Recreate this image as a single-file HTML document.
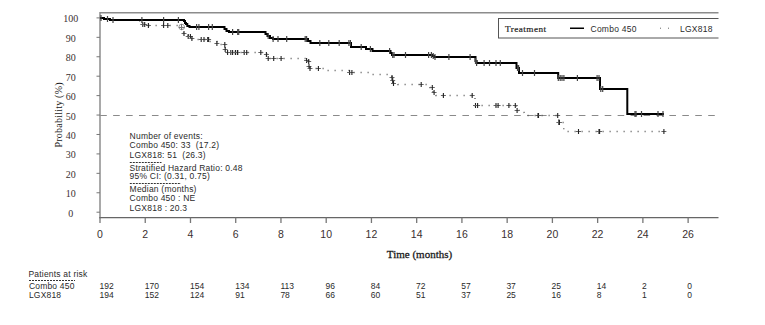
<!DOCTYPE html>
<html><head><meta charset="utf-8"><style>
html,body{margin:0;padding:0;background:#fff;}
body{width:765px;height:325px;overflow:hidden;position:relative;}
svg{position:absolute;left:0;top:0;}
.s{font-family:"Liberation Sans",sans-serif;}
.r{font-family:"Liberation Serif",serif;}
</style></head><body>
<svg width="765" height="325" viewBox="0 0 765 325">
<defs><clipPath id="c"><rect x="0" y="0" width="718.5" height="325"/></clipPath></defs>
<g clip-path="url(#c)">

<path d="M100,12.75 H720" stroke="#8c8c8c" stroke-width="1.5" fill="none"/>
<path d="M100,12 V218.3" stroke="#8c8c8c" stroke-width="1.5" fill="none"/>
<path d="M99.3,217.6 H720" stroke="#666" stroke-width="1.3" fill="none"/>
<path d="M96.5,212.20 H100" stroke="#777" stroke-width="1" fill="none"/>
<text class="r" x="70.7" y="216.70" font-size="10" text-anchor="middle" fill="#3a3030">0</text>
<path d="M96.5,192.77 H100" stroke="#777" stroke-width="1" fill="none"/>
<text class="r" x="70.7" y="197.27" font-size="10" text-anchor="middle" fill="#3a3030">10</text>
<path d="M96.5,173.34 H100" stroke="#777" stroke-width="1" fill="none"/>
<text class="r" x="70.7" y="177.84" font-size="10" text-anchor="middle" fill="#3a3030">20</text>
<path d="M96.5,153.91 H100" stroke="#777" stroke-width="1" fill="none"/>
<text class="r" x="70.7" y="158.41" font-size="10" text-anchor="middle" fill="#3a3030">30</text>
<path d="M96.5,134.48 H100" stroke="#777" stroke-width="1" fill="none"/>
<text class="r" x="70.7" y="138.98" font-size="10" text-anchor="middle" fill="#3a3030">40</text>
<path d="M96.5,115.05 H100" stroke="#777" stroke-width="1" fill="none"/>
<text class="r" x="70.7" y="119.55" font-size="10" text-anchor="middle" fill="#3a3030">50</text>
<path d="M96.5,95.62 H100" stroke="#777" stroke-width="1" fill="none"/>
<text class="r" x="70.7" y="100.12" font-size="10" text-anchor="middle" fill="#3a3030">60</text>
<path d="M96.5,76.19 H100" stroke="#777" stroke-width="1" fill="none"/>
<text class="r" x="70.7" y="80.69" font-size="10" text-anchor="middle" fill="#3a3030">70</text>
<path d="M96.5,56.76 H100" stroke="#777" stroke-width="1" fill="none"/>
<text class="r" x="70.7" y="61.26" font-size="10" text-anchor="middle" fill="#3a3030">80</text>
<path d="M96.5,37.33 H100" stroke="#777" stroke-width="1" fill="none"/>
<text class="r" x="70.7" y="41.83" font-size="10" text-anchor="middle" fill="#3a3030">90</text>
<path d="M96.5,17.90 H100" stroke="#777" stroke-width="1" fill="none"/>
<text class="r" x="70.7" y="22.40" font-size="10" text-anchor="middle" fill="#3a3030">100</text>
<path d="M100.00,217.6 V223" stroke="#777" stroke-width="1.3" fill="none"/>
<text class="s" x="100.00" y="237.8" font-size="10.5" text-anchor="middle" fill="#3a3030">0</text>
<path d="M145.24,217.6 V223" stroke="#777" stroke-width="1.3" fill="none"/>
<text class="s" x="145.24" y="237.8" font-size="10.5" text-anchor="middle" fill="#3a3030">2</text>
<path d="M190.48,217.6 V223" stroke="#777" stroke-width="1.3" fill="none"/>
<text class="s" x="190.48" y="237.8" font-size="10.5" text-anchor="middle" fill="#3a3030">4</text>
<path d="M235.72,217.6 V223" stroke="#777" stroke-width="1.3" fill="none"/>
<text class="s" x="235.72" y="237.8" font-size="10.5" text-anchor="middle" fill="#3a3030">6</text>
<path d="M280.96,217.6 V223" stroke="#777" stroke-width="1.3" fill="none"/>
<text class="s" x="280.96" y="237.8" font-size="10.5" text-anchor="middle" fill="#3a3030">8</text>
<path d="M326.20,217.6 V223" stroke="#777" stroke-width="1.3" fill="none"/>
<text class="s" x="326.20" y="237.8" font-size="10.5" text-anchor="middle" fill="#3a3030">10</text>
<path d="M371.44,217.6 V223" stroke="#777" stroke-width="1.3" fill="none"/>
<text class="s" x="371.44" y="237.8" font-size="10.5" text-anchor="middle" fill="#3a3030">12</text>
<path d="M416.68,217.6 V223" stroke="#777" stroke-width="1.3" fill="none"/>
<text class="s" x="416.68" y="237.8" font-size="10.5" text-anchor="middle" fill="#3a3030">14</text>
<path d="M461.92,217.6 V223" stroke="#777" stroke-width="1.3" fill="none"/>
<text class="s" x="461.92" y="237.8" font-size="10.5" text-anchor="middle" fill="#3a3030">16</text>
<path d="M507.16,217.6 V223" stroke="#777" stroke-width="1.3" fill="none"/>
<text class="s" x="507.16" y="237.8" font-size="10.5" text-anchor="middle" fill="#3a3030">18</text>
<path d="M552.40,217.6 V223" stroke="#777" stroke-width="1.3" fill="none"/>
<text class="s" x="552.40" y="237.8" font-size="10.5" text-anchor="middle" fill="#3a3030">20</text>
<path d="M597.64,217.6 V223" stroke="#777" stroke-width="1.3" fill="none"/>
<text class="s" x="597.64" y="237.8" font-size="10.5" text-anchor="middle" fill="#3a3030">22</text>
<path d="M642.88,217.6 V223" stroke="#777" stroke-width="1.3" fill="none"/>
<text class="s" x="642.88" y="237.8" font-size="10.5" text-anchor="middle" fill="#3a3030">24</text>
<path d="M688.12,217.6 V223" stroke="#777" stroke-width="1.3" fill="none"/>
<text class="s" x="688.12" y="237.8" font-size="10.5" text-anchor="middle" fill="#3a3030">26</text>
<path d="M100.2,115.5 H716" stroke="#8a8a8a" stroke-width="1" stroke-dasharray="6.6 6.336" fill="none"/>
<path d="M139.6,20.5 H139.6 V22.5 H142 V24.5 H146 V25.5 H181 V27.5 H183.5 V33.5 H185 V35.5 H188.2 V36.5 H191.9 V38.5 H193 V39.5 H209 V41.5 H216.9 V43.5 H220 V44.5 H225 V49.5 H226.5 V52.5 H265 V54.5 H267.5 V58.5 H306.6 V60.5 H308.7 V61.5 H309 V66.5 H310 V68.5 H324 V69.5 H327 V70.5 H349 V72.5 H372 V74.5 H392 V77.5 H392.7 V80.5 H393.5 V83.5 H398 V84.5 H430 V87.5 H433 V92.5 H436 V95.5 H475 V105.5 H516.5 V110.5 H519 V112.5 H524 V115.5 H558.9 V122.5 H563.8 V131.5 H664" stroke="#555" stroke-width="1.3" stroke-dasharray="1 6" fill="none"/>
<path d="M140.3,24.5 H145.3" stroke="#666" stroke-width="1" fill="none"/><path d="M142.8,22.0 V27.0" stroke="#222" stroke-width="1.1" fill="none"/>
<path d="M142.2,24.5 H147.2" stroke="#666" stroke-width="1" fill="none"/><path d="M144.7,22.0 V27.0" stroke="#222" stroke-width="1.1" fill="none"/>
<path d="M145.9,25.5 H150.9" stroke="#666" stroke-width="1" fill="none"/><path d="M148.4,23.0 V28.0" stroke="#222" stroke-width="1.1" fill="none"/>
<path d="M161.1,25.5 H166.1" stroke="#666" stroke-width="1" fill="none"/><path d="M163.6,23.0 V28.0" stroke="#222" stroke-width="1.1" fill="none"/>
<path d="M165.3,25.5 H170.3" stroke="#666" stroke-width="1" fill="none"/><path d="M167.8,23.0 V28.0" stroke="#222" stroke-width="1.1" fill="none"/>
<path d="M181.5,33.5 H186.5" stroke="#666" stroke-width="1" fill="none"/><path d="M184,31.0 V36.0" stroke="#222" stroke-width="1.1" fill="none"/>
<path d="M185.7,36.5 H190.7" stroke="#666" stroke-width="1" fill="none"/><path d="M188.2,34.0 V39.0" stroke="#222" stroke-width="1.1" fill="none"/>
<path d="M187.9,36.5 H192.9" stroke="#666" stroke-width="1" fill="none"/><path d="M190.4,34.0 V39.0" stroke="#222" stroke-width="1.1" fill="none"/>
<path d="M189.4,38.5 H194.4" stroke="#666" stroke-width="1" fill="none"/><path d="M191.9,36.0 V41.0" stroke="#222" stroke-width="1.1" fill="none"/>
<path d="M198.7,39.5 H203.7" stroke="#666" stroke-width="1" fill="none"/><path d="M201.2,37.0 V42.0" stroke="#222" stroke-width="1.1" fill="none"/>
<path d="M201.5,39.5 H206.5" stroke="#666" stroke-width="1" fill="none"/><path d="M204,37.0 V42.0" stroke="#222" stroke-width="1.1" fill="none"/>
<path d="M205.2,39.5 H210.2" stroke="#666" stroke-width="1" fill="none"/><path d="M207.7,37.0 V42.0" stroke="#222" stroke-width="1.1" fill="none"/>
<path d="M206.1,39.5 H211.1" stroke="#666" stroke-width="1" fill="none"/><path d="M208.6,37.0 V42.0" stroke="#222" stroke-width="1.1" fill="none"/>
<path d="M214.4,43.5 H219.4" stroke="#666" stroke-width="1" fill="none"/><path d="M216.9,41.0 V46.0" stroke="#222" stroke-width="1.1" fill="none"/>
<path d="M222.3,44.5 H227.3" stroke="#666" stroke-width="1" fill="none"/><path d="M224.8,42.0 V47.0" stroke="#222" stroke-width="1.1" fill="none"/>
<path d="M222.7,49.5 H227.7" stroke="#666" stroke-width="1" fill="none"/><path d="M225.2,47.0 V52.0" stroke="#222" stroke-width="1.1" fill="none"/>
<path d="M225.1,52.5 H230.1" stroke="#666" stroke-width="1" fill="none"/><path d="M227.6,50.0 V55.0" stroke="#222" stroke-width="1.1" fill="none"/>
<path d="M228.3,52.5 H233.3" stroke="#666" stroke-width="1" fill="none"/><path d="M230.8,50.0 V55.0" stroke="#222" stroke-width="1.1" fill="none"/>
<path d="M230.1,52.5 H235.1" stroke="#666" stroke-width="1" fill="none"/><path d="M232.6,50.0 V55.0" stroke="#222" stroke-width="1.1" fill="none"/>
<path d="M232.9,52.5 H237.9" stroke="#666" stroke-width="1" fill="none"/><path d="M235.4,50.0 V55.0" stroke="#222" stroke-width="1.1" fill="none"/>
<path d="M235.2,52.5 H240.2" stroke="#666" stroke-width="1" fill="none"/><path d="M237.7,50.0 V55.0" stroke="#222" stroke-width="1.1" fill="none"/>
<path d="M233.1,52.5 H238.1" stroke="#666" stroke-width="1" fill="none"/><path d="M235.6,50.0 V55.0" stroke="#222" stroke-width="1.1" fill="none"/>
<path d="M235.0,52.5 H240.0" stroke="#666" stroke-width="1" fill="none"/><path d="M237.5,50.0 V55.0" stroke="#222" stroke-width="1.1" fill="none"/>
<path d="M241.7,52.5 H246.7" stroke="#666" stroke-width="1" fill="none"/><path d="M244.2,50.0 V55.0" stroke="#222" stroke-width="1.1" fill="none"/>
<path d="M244.2,52.5 H249.2" stroke="#666" stroke-width="1" fill="none"/><path d="M246.7,50.0 V55.0" stroke="#222" stroke-width="1.1" fill="none"/>
<path d="M258.3,52.5 H263.3" stroke="#666" stroke-width="1" fill="none"/><path d="M260.8,50.0 V55.0" stroke="#222" stroke-width="1.1" fill="none"/>
<path d="M263.9,54.5 H268.9" stroke="#666" stroke-width="1" fill="none"/><path d="M266.4,52.0 V57.0" stroke="#222" stroke-width="1.1" fill="none"/>
<path d="M265.7,58.5 H270.7" stroke="#666" stroke-width="1" fill="none"/><path d="M268.2,56.0 V61.0" stroke="#222" stroke-width="1.1" fill="none"/>
<path d="M271.2,58.5 H276.2" stroke="#666" stroke-width="1" fill="none"/><path d="M273.7,56.0 V61.0" stroke="#222" stroke-width="1.1" fill="none"/>
<path d="M278.6,58.5 H283.6" stroke="#666" stroke-width="1" fill="none"/><path d="M281.1,56.0 V61.0" stroke="#222" stroke-width="1.1" fill="none"/>
<path d="M304.1,60.5 H309.1" stroke="#666" stroke-width="1" fill="none"/><path d="M306.6,58.0 V63.0" stroke="#222" stroke-width="1.1" fill="none"/>
<path d="M306.2,61.5 H311.2" stroke="#666" stroke-width="1" fill="none"/><path d="M308.7,59.0 V64.0" stroke="#222" stroke-width="1.1" fill="none"/>
<path d="M306.5,66.5 H311.5" stroke="#666" stroke-width="1" fill="none"/><path d="M309,64.0 V69.0" stroke="#222" stroke-width="1.1" fill="none"/>
<path d="M307.5,68.5 H312.5" stroke="#666" stroke-width="1" fill="none"/><path d="M310,66.0 V71.0" stroke="#222" stroke-width="1.1" fill="none"/>
<path d="M315.9,68.5 H320.9" stroke="#666" stroke-width="1" fill="none"/><path d="M318.4,66.0 V71.0" stroke="#222" stroke-width="1.1" fill="none"/>
<path d="M347.1,72.5 H352.1" stroke="#666" stroke-width="1" fill="none"/><path d="M349.6,70.0 V75.0" stroke="#222" stroke-width="1.1" fill="none"/>
<path d="M349.4,72.5 H354.4" stroke="#666" stroke-width="1" fill="none"/><path d="M351.9,70.0 V75.0" stroke="#222" stroke-width="1.1" fill="none"/>
<path d="M389.5,77.5 H394.5" stroke="#666" stroke-width="1" fill="none"/><path d="M392,75.0 V80.0" stroke="#222" stroke-width="1.1" fill="none"/>
<path d="M390.2,80.5 H395.2" stroke="#666" stroke-width="1" fill="none"/><path d="M392.7,78.0 V83.0" stroke="#222" stroke-width="1.1" fill="none"/>
<path d="M391.0,83.5 H396.0" stroke="#666" stroke-width="1" fill="none"/><path d="M393.5,81.0 V86.0" stroke="#222" stroke-width="1.1" fill="none"/>
<path d="M418.7,84.5 H423.7" stroke="#666" stroke-width="1" fill="none"/><path d="M421.2,82.0 V87.0" stroke="#222" stroke-width="1.1" fill="none"/>
<path d="M429.8,87.5 H434.8" stroke="#666" stroke-width="1" fill="none"/><path d="M432.3,85.0 V90.0" stroke="#222" stroke-width="1.1" fill="none"/>
<path d="M431.6,92.5 H436.6" stroke="#666" stroke-width="1" fill="none"/><path d="M434.1,90.0 V95.0" stroke="#222" stroke-width="1.1" fill="none"/>
<path d="M440.9,95.5 H445.9" stroke="#666" stroke-width="1" fill="none"/><path d="M443.4,93.0 V98.0" stroke="#222" stroke-width="1.1" fill="none"/>
<path d="M469.7,95.5 H474.7" stroke="#666" stroke-width="1" fill="none"/><path d="M472.2,93.0 V98.0" stroke="#222" stroke-width="1.1" fill="none"/>
<path d="M473.0,105.5 H478.0" stroke="#666" stroke-width="1" fill="none"/><path d="M475.5,103.0 V108.0" stroke="#222" stroke-width="1.1" fill="none"/>
<path d="M475.1,105.5 H480.1" stroke="#666" stroke-width="1" fill="none"/><path d="M477.6,103.0 V108.0" stroke="#222" stroke-width="1.1" fill="none"/>
<path d="M493.5,105.5 H498.5" stroke="#666" stroke-width="1" fill="none"/><path d="M496,103.0 V108.0" stroke="#222" stroke-width="1.1" fill="none"/>
<path d="M495.6,105.5 H500.6" stroke="#666" stroke-width="1" fill="none"/><path d="M498.1,103.0 V108.0" stroke="#222" stroke-width="1.1" fill="none"/>
<path d="M506.4,105.5 H511.4" stroke="#666" stroke-width="1" fill="none"/><path d="M508.9,103.0 V108.0" stroke="#222" stroke-width="1.1" fill="none"/>
<path d="M512.8,105.5 H517.8" stroke="#666" stroke-width="1" fill="none"/><path d="M515.3,103.0 V108.0" stroke="#222" stroke-width="1.1" fill="none"/>
<path d="M514.6,110.5 H519.6" stroke="#666" stroke-width="1" fill="none"/><path d="M517.1,108.0 V113.0" stroke="#222" stroke-width="1.1" fill="none"/>
<path d="M536.0,115.5 H541.0" stroke="#666" stroke-width="1" fill="none"/><path d="M538.5,113.0 V118.0" stroke="#222" stroke-width="1.1" fill="none"/>
<path d="M535.5,115.5 H540.5" stroke="#666" stroke-width="1" fill="none"/><path d="M538,113.0 V118.0" stroke="#222" stroke-width="1.1" fill="none"/>
<path d="M555.2,115.5 H560.2" stroke="#666" stroke-width="1" fill="none"/><path d="M557.7,113.0 V118.0" stroke="#222" stroke-width="1.1" fill="none"/>
<path d="M556.4,122.5 H561.4" stroke="#666" stroke-width="1" fill="none"/><path d="M558.9,120.0 V125.0" stroke="#222" stroke-width="1.1" fill="none"/>
<path d="M556.9,122.5 H561.9" stroke="#666" stroke-width="1" fill="none"/><path d="M559.4,120.0 V125.0" stroke="#222" stroke-width="1.1" fill="none"/>
<path d="M576.0,131.5 H581.0" stroke="#666" stroke-width="1" fill="none"/><path d="M578.5,129.0 V134.0" stroke="#222" stroke-width="1.1" fill="none"/>
<path d="M596.5,131.5 H601.5" stroke="#666" stroke-width="1" fill="none"/><path d="M599,129.0 V134.0" stroke="#222" stroke-width="1.1" fill="none"/>
<path d="M597.1,131.5 H602.1" stroke="#666" stroke-width="1" fill="none"/><path d="M599.6,129.0 V134.0" stroke="#222" stroke-width="1.1" fill="none"/>
<path d="M661.4,131.5 H666.4" stroke="#666" stroke-width="1" fill="none"/><path d="M663.9,129.0 V134.0" stroke="#222" stroke-width="1.1" fill="none"/>
<circle cx="181.7" cy="27" r="2.8" fill="none" stroke="#999" stroke-width="1"/><path d="M178.7,27.5 H184.7 M181.5,24 V30" stroke="#777" stroke-width="1"/>
<path d="M100,18 H104 V19 H110 V20 H139 V20 H183 V20 H184 V21 H185 V23 H186 V24 H187.3 V26 H189.5 V27 H224.5 V29 H226.5 V31 H229 V32 H265.5 V34 H267.5 V36 H270 V38 H273 V39 H308 V41 H310.5 V43 H351 V47 H366 V49 H372.5 V51 H390.5 V53 H392 V55 H432.3 V56 H434 V57 H475.5 V61 H476.6 V63 H516.5 V68 H519 V73 H558.2 V78 H600 V89 H627.3 V114 H664" stroke="#000" stroke-width="2" fill="none"/>
<path d="M101,15 V21" stroke="#444" stroke-width="1.2" fill="none"/>
<path d="M107.5,16 V22" stroke="#444" stroke-width="1.2" fill="none"/>
<path d="M113,17 V23" stroke="#444" stroke-width="1.2" fill="none"/>
<path d="M141.9,17 V23" stroke="#444" stroke-width="1.2" fill="none"/>
<path d="M163.6,17 V23" stroke="#444" stroke-width="1.2" fill="none"/>
<path d="M178.4,17 V23" stroke="#444" stroke-width="1.2" fill="none"/>
<path d="M196.6,24 V30" stroke="#444" stroke-width="1.2" fill="none"/>
<path d="M198.9,24 V30" stroke="#444" stroke-width="1.2" fill="none"/>
<path d="M208.6,24 V30" stroke="#444" stroke-width="1.2" fill="none"/>
<path d="M212.3,24 V30" stroke="#444" stroke-width="1.2" fill="none"/>
<path d="M232.6,29 V35" stroke="#444" stroke-width="1.2" fill="none"/>
<path d="M237.7,29 V35" stroke="#444" stroke-width="1.2" fill="none"/>
<path d="M238.7,29 V35" stroke="#444" stroke-width="1.2" fill="none"/>
<path d="M268.2,33 V39" stroke="#444" stroke-width="1.2" fill="none"/>
<path d="M273.1,36 V42" stroke="#444" stroke-width="1.2" fill="none"/>
<path d="M278,36 V42" stroke="#444" stroke-width="1.2" fill="none"/>
<path d="M286.7,36 V42" stroke="#444" stroke-width="1.2" fill="none"/>
<path d="M305.2,36 V42" stroke="#444" stroke-width="1.2" fill="none"/>
<path d="M306.6,36 V42" stroke="#444" stroke-width="1.2" fill="none"/>
<path d="M319.8,40 V46" stroke="#444" stroke-width="1.2" fill="none"/>
<path d="M328.8,40 V46" stroke="#444" stroke-width="1.2" fill="none"/>
<path d="M339.2,40 V46" stroke="#444" stroke-width="1.2" fill="none"/>
<path d="M348.9,40 V46" stroke="#444" stroke-width="1.2" fill="none"/>
<path d="M350.4,40 V46" stroke="#444" stroke-width="1.2" fill="none"/>
<path d="M361.2,44 V50" stroke="#444" stroke-width="1.2" fill="none"/>
<path d="M370.4,46 V52" stroke="#444" stroke-width="1.2" fill="none"/>
<path d="M389.6,48 V54" stroke="#444" stroke-width="1.2" fill="none"/>
<path d="M392.7,52 V58" stroke="#444" stroke-width="1.2" fill="none"/>
<path d="M394,52 V58" stroke="#444" stroke-width="1.2" fill="none"/>
<path d="M405.5,52 V58" stroke="#444" stroke-width="1.2" fill="none"/>
<path d="M428.6,52 V58" stroke="#444" stroke-width="1.2" fill="none"/>
<path d="M431.4,52 V58" stroke="#444" stroke-width="1.2" fill="none"/>
<path d="M433.2,53 V59" stroke="#444" stroke-width="1.2" fill="none"/>
<path d="M435,54 V60" stroke="#444" stroke-width="1.2" fill="none"/>
<path d="M448.9,54 V60" stroke="#444" stroke-width="1.2" fill="none"/>
<path d="M470.1,54 V60" stroke="#444" stroke-width="1.2" fill="none"/>
<path d="M475.5,58 V64" stroke="#444" stroke-width="1.2" fill="none"/>
<path d="M476.6,60 V66" stroke="#444" stroke-width="1.2" fill="none"/>
<path d="M484.1,60 V66" stroke="#444" stroke-width="1.2" fill="none"/>
<path d="M489.5,60 V66" stroke="#444" stroke-width="1.2" fill="none"/>
<path d="M496,60 V66" stroke="#444" stroke-width="1.2" fill="none"/>
<path d="M500.3,60 V66" stroke="#444" stroke-width="1.2" fill="none"/>
<path d="M517.5,65 V71" stroke="#444" stroke-width="1.2" fill="none"/>
<path d="M518.6,65 V71" stroke="#444" stroke-width="1.2" fill="none"/>
<path d="M522.5,70 V76" stroke="#444" stroke-width="1.2" fill="none"/>
<path d="M534.5,70 V76" stroke="#444" stroke-width="1.2" fill="none"/>
<path d="M558.3,75 V81" stroke="#444" stroke-width="1.2" fill="none"/>
<path d="M560.2,75 V81" stroke="#444" stroke-width="1.2" fill="none"/>
<path d="M562,75 V81" stroke="#444" stroke-width="1.2" fill="none"/>
<path d="M563.9,75 V81" stroke="#444" stroke-width="1.2" fill="none"/>
<path d="M577.4,75 V81" stroke="#444" stroke-width="1.2" fill="none"/>
<path d="M597.1,75 V81" stroke="#444" stroke-width="1.2" fill="none"/>
<path d="M599,75 V81" stroke="#444" stroke-width="1.2" fill="none"/>
<path d="M600.8,86 V92" stroke="#444" stroke-width="1.2" fill="none"/>
<path d="M602.7,86 V92" stroke="#444" stroke-width="1.2" fill="none"/>
<path d="M635,111 V117" stroke="#444" stroke-width="1.2" fill="none"/>
<path d="M636,111 V117" stroke="#444" stroke-width="1.2" fill="none"/>
<path d="M641.5,111 V117" stroke="#444" stroke-width="1.2" fill="none"/>
<path d="M658,111 V117" stroke="#444" stroke-width="1.2" fill="none"/>
<path d="M663,111 V117" stroke="#444" stroke-width="1.2" fill="none"/>
<rect x="498.5" y="18.5" width="240" height="19.5" fill="#fff" stroke="#555" stroke-width="1"/>
<text class="r" x="505" y="32.4" font-size="9.2" letter-spacing="0.45" fill="#222" stroke="#222" stroke-width="0.2">Treatment</text>
<path d="M570,28.2 H584" stroke="#000" stroke-width="1.5"/>
<text class="s" x="590.5" y="32.4" font-size="8.5" letter-spacing="0.25" fill="#2a2a2a">Combo 450</text>
<rect x="660" y="27.7" width="1" height="1" fill="#666"/><rect x="668" y="27.7" width="1" height="1" fill="#666"/>
<text class="s" x="680" y="32.4" font-size="8.5" letter-spacing="0.25" fill="#2a2a2a">LGX818</text>
<text class="s" x="129.6" y="139.2" font-size="8.5" letter-spacing="0.22" fill="#2a2a2a">Number of events:</text>
<text class="s" x="129.6" y="148.4" font-size="8.5" letter-spacing="0.22" fill="#2a2a2a">Combo 450: 33&#160; (17.2)</text>
<text class="s" x="129.6" y="157.6" font-size="8.5" letter-spacing="0.22" fill="#2a2a2a">LGX818: 51&#160; (26.3)</text>
<text class="s" x="129.6" y="170.6" font-size="8.5" letter-spacing="0.22" fill="#2a2a2a">Stratified Hazard Ratio: 0.48</text>
<text class="s" x="129.6" y="179.4" font-size="8.5" letter-spacing="0.22" fill="#2a2a2a">95% CI: (0.31, 0.75)</text>
<text class="s" x="129.6" y="192.4" font-size="8.5" letter-spacing="0.22" fill="#2a2a2a">Median (months)</text>
<text class="s" x="129.6" y="201.4" font-size="8.5" letter-spacing="0.22" fill="#2a2a2a">Combo 450 : NE</text>
<text class="s" x="129.6" y="210.6" font-size="8.5" letter-spacing="0.22" fill="#2a2a2a">LGX818 : 20.3</text>
<path d="M129.8,162.5 H161.5" stroke="#333" stroke-width="1" stroke-dasharray="2 1"/>
<path d="M129.8,183.5 H181" stroke="#333" stroke-width="1" stroke-dasharray="2 1"/>
</g>
<text class="r" x="419.5" y="258.3" font-size="11" text-anchor="middle" fill="#1a1a1a" stroke="#1a1a1a" stroke-width="0.3">Time (months)</text>
<text class="r" transform="translate(61.8,147.5) rotate(-90)" x="0" y="0" font-size="10" letter-spacing="0.22" fill="#1a1a1a">Probability (%)</text>
<text class="s" x="28.5" y="276.8" font-size="8.5" letter-spacing="0.2" fill="#2a2a2a">Patients at risk</text>
<path d="M29,280.5 H75" stroke="#333" stroke-width="1" stroke-dasharray="2 1"/>
<text class="s" x="28.9" y="288.8" font-size="8.5" letter-spacing="0.2" fill="#2a2a2a">Combo 450</text>
<text class="s" x="28.9" y="298.3" font-size="8.5" letter-spacing="0.2" fill="#2a2a2a">LGX818</text>
<text class="s" x="99.6" y="288.7" font-size="8.5" fill="#2a2a2a">192</text>
<text class="s" x="99.6" y="298.4" font-size="8.5" fill="#2a2a2a">194</text>
<text class="s" x="144.8" y="288.7" font-size="8.5" fill="#2a2a2a">170</text>
<text class="s" x="144.8" y="298.4" font-size="8.5" fill="#2a2a2a">152</text>
<text class="s" x="190.0" y="288.7" font-size="8.5" fill="#2a2a2a">154</text>
<text class="s" x="190.0" y="298.4" font-size="8.5" fill="#2a2a2a">124</text>
<text class="s" x="235.2" y="288.7" font-size="8.5" fill="#2a2a2a">134</text>
<text class="s" x="235.2" y="298.4" font-size="8.5" fill="#2a2a2a">91</text>
<text class="s" x="280.4" y="288.7" font-size="8.5" fill="#2a2a2a">113</text>
<text class="s" x="280.4" y="298.4" font-size="8.5" fill="#2a2a2a">78</text>
<text class="s" x="325.6" y="288.7" font-size="8.5" fill="#2a2a2a">96</text>
<text class="s" x="325.6" y="298.4" font-size="8.5" fill="#2a2a2a">66</text>
<text class="s" x="370.8" y="288.7" font-size="8.5" fill="#2a2a2a">84</text>
<text class="s" x="370.8" y="298.4" font-size="8.5" fill="#2a2a2a">60</text>
<text class="s" x="416.0" y="288.7" font-size="8.5" fill="#2a2a2a">72</text>
<text class="s" x="416.0" y="298.4" font-size="8.5" fill="#2a2a2a">51</text>
<text class="s" x="461.2" y="288.7" font-size="8.5" fill="#2a2a2a">57</text>
<text class="s" x="461.2" y="298.4" font-size="8.5" fill="#2a2a2a">37</text>
<text class="s" x="506.4" y="288.7" font-size="8.5" fill="#2a2a2a">37</text>
<text class="s" x="506.4" y="298.4" font-size="8.5" fill="#2a2a2a">25</text>
<text class="s" x="551.6" y="288.7" font-size="8.5" fill="#2a2a2a">25</text>
<text class="s" x="551.6" y="298.4" font-size="8.5" fill="#2a2a2a">16</text>
<text class="s" x="596.8" y="288.7" font-size="8.5" fill="#2a2a2a">14</text>
<text class="s" x="596.8" y="298.4" font-size="8.5" fill="#2a2a2a">8</text>
<text class="s" x="642.0" y="288.7" font-size="8.5" fill="#2a2a2a">2</text>
<text class="s" x="642.0" y="298.4" font-size="8.5" fill="#2a2a2a">1</text>
<text class="s" x="687.2" y="288.7" font-size="8.5" fill="#2a2a2a">0</text>
<text class="s" x="687.2" y="298.4" font-size="8.5" fill="#2a2a2a">0</text>
</svg></body></html>
